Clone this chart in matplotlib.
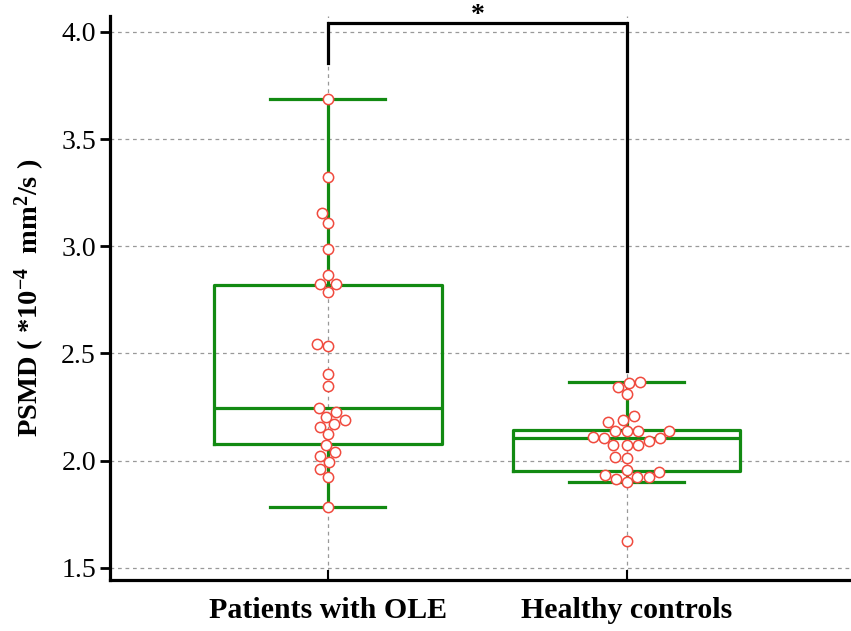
import matplotlib
matplotlib.use('Agg')
import matplotlib.pyplot as plt
import numpy as np

plt.rcParams['font.family'] = ['Liberation Serif', 'DejaVu Serif']
plt.rcParams['mathtext.fontset'] = 'custom'
plt.rcParams['mathtext.rm'] = 'Liberation Serif:bold'
plt.rcParams['mathtext.default'] = 'rm'

# data
groups = ['Patients with OLE', 'Healthy controls']
ole = [3.687, 3.322, 3.154, 3.109, 2.988, 2.868, 2.826, 2.826, 2.787, 2.546,
       2.537, 2.403, 2.346, 2.248, 2.228, 2.206, 2.190, 2.170, 2.159, 2.124,
       2.072, 2.041, 2.021, 1.994, 1.963, 1.924, 1.783]
hc = [2.366, 2.363, 2.343, 2.310, 2.209, 2.189, 2.180, 2.140, 2.140, 2.140,
      2.138, 2.112, 2.108, 2.108, 2.094, 2.071, 2.071, 2.071, 2.019, 2.012,
      1.957, 1.946, 1.932, 1.923, 1.923, 1.914, 1.901, 1.627]
# box stats: whislo, q1, med, q3, whishi
box_ole = [1.783, 2.08, 2.245, 2.82, 3.687]
box_hc = [1.90, 1.95, 2.105, 2.145, 2.366]
sig_label = '*'
bracket_left_low = 3.855
bracket_right_low = 2.42
bracket_top = 4.04
yticks = [1.5, 2.0, 2.5, 3.0, 3.5, 4.0]

green = '#128a12'
red = '#f04a3e'

fig = plt.figure(figsize=(8.51, 6.31), dpi=100)
ax = fig.add_axes([0.129, 0.081, 0.871, 0.894])
ax.set_xlim(0.27, 2.75)
ax.set_ylim(1.444, 4.075)

# grid
for y in yticks:
    ax.axhline(y, color='#999999', lw=0.9, ls=(0, (3, 3)), zorder=0)
for x in (1, 2):
    ax.axvline(x, color='#999999', lw=0.9, ls=(0, (3, 3)), zorder=0)

stats = []
for b in (box_ole, box_hc):
    stats.append(dict(whislo=b[0], q1=b[1], med=b[2], q3=b[3], whishi=b[4], fliers=[]))
props = dict(color=green, lw=2.3)
ax.bxp(stats, positions=[1, 2], widths=0.76, capwidths=0.385, showfliers=False,
       boxprops=props, medianprops=props, whiskerprops=props, capprops=props,
       manage_ticks=False, zorder=2)


def swarm(vals, d_px, sx, sy):
    ys = np.asarray(vals) * sy
    out = np.zeros(len(ys))
    placed = []
    for i in np.argsort(ys):
        y = ys[i]
        near = [(px, py) for px, py in placed if abs(py - y) < d_px]
        cands = [0.0]
        for px, py in near:
            dx = np.sqrt(d_px ** 2 - (py - y) ** 2)
            cands += [px + dx, px - dx]
        cands.sort(key=lambda c: (abs(c), c))
        for c in cands:
            if all((c - px) ** 2 + (y - py) ** 2 >= d_px ** 2 - 1e-6 for px, py in near):
                break
        placed.append((c, y))
        out[i] = c / sx
    return out


p0 = ax.transData.transform((0, 0))
p1 = ax.transData.transform((1, 1))
sx, sy = p1 - p0
for pos, vals in zip([1, 2], [ole, hc]):
    offs = swarm(vals, 11.5, sx, sy)
    ax.scatter(pos + offs, vals, s=55, facecolor='white', edgecolor=red,
               linewidth=1.1, zorder=3)

# significance bracket
ax.plot([1, 1, 2, 2], [bracket_left_low, bracket_top, bracket_top, bracket_right_low],
        color='black', lw=2.3, zorder=4, clip_on=False, solid_joinstyle='miter')
ax.text(1.5, bracket_top + 0.035, sig_label, ha='center', va='center', fontsize=20,
        fontweight='bold', clip_on=False)

ax.set_xticks([1, 2])
ax.set_xticklabels(groups, fontsize=21.5, fontweight='bold')
ax.set_yticks(yticks)
ax.set_yticklabels(['%.1f' % v for v in yticks], fontsize=20)
ax.tick_params(axis='x', direction='in', length=7, width=1.5, pad=12)
ax.tick_params(axis='y', direction='out', length=7, width=2, pad=3)
ax.set_ylabel('PSMD ( *10$^{-4}$  mm$^{2}$/s )', fontsize=20.5, fontweight='bold', labelpad=10)

for side in ('top', 'right'):
    ax.spines[side].set_visible(False)
for side in ('left', 'bottom'):
    ax.spines[side].set_linewidth(2.3)

fig.savefig('out.png', dpi=100)
